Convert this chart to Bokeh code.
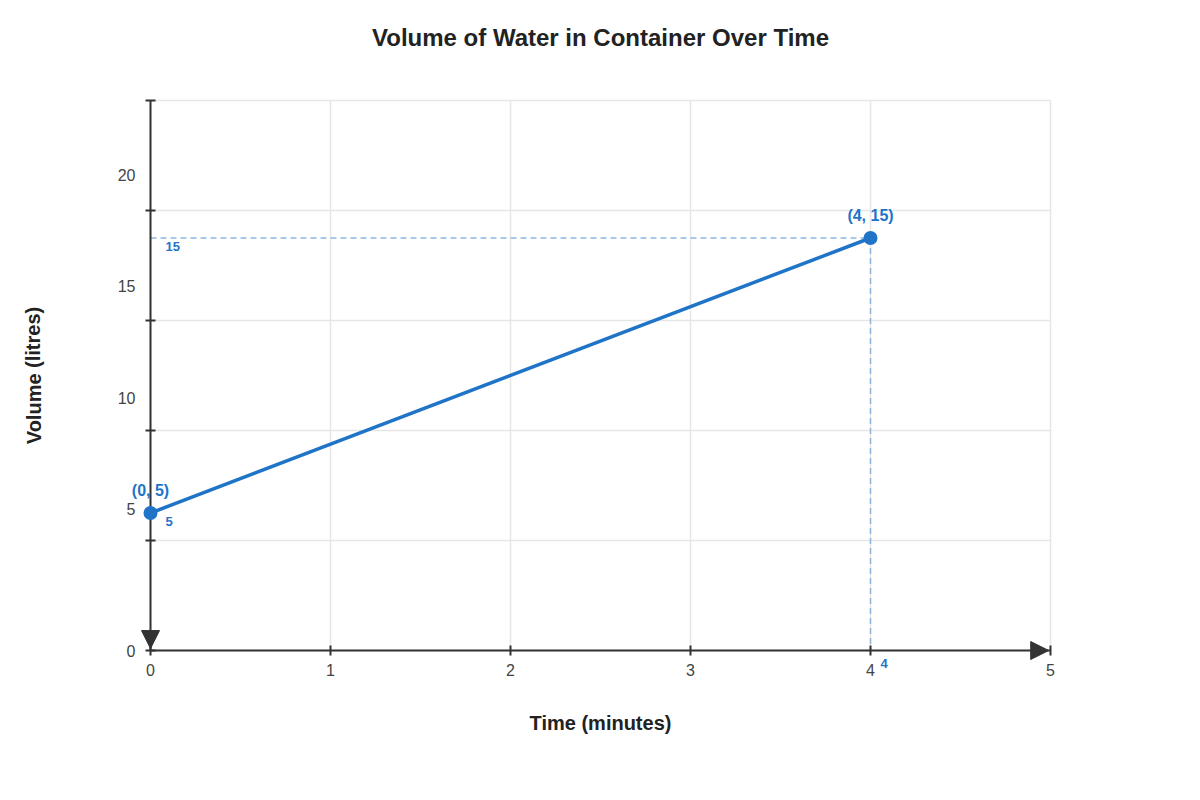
from bokeh.plotting import figure
from bokeh.models import Range1d, Label, LabelSet, ColumnDataSource, Arrow, NormalHead, FixedTicker, LinearAxis
from bokeh.core.properties import value
from bokeh.embed import file_html
from bokeh.resources import INLINE

# data
time_min = [0, 4]
volume_l = [5, 15]
point_labels = ["(0, 5)", "(4, 15)"]

x_ticks = [0, 1, 2, 3, 4, 5]
y_grid_ticks = [0, 4, 8, 12, 16, 20]
y_tick_text = ["0", "5", "10", "15", "20"]
y_tick_pos = [0, 5.15, 9.2, 13.25, 17.3]

BLUE = "#1f74c8"
DASH = "#8fb6df"
DARK = "#333333"
GRID = "#e6e6e6"
FONT = "Liberation Sans"

W, H = 1184, 784
# pixel placement of the data area: x 0..5 -> 150..1050, y 0..20 -> 650..100
xpx = 180.0
ypx = 27.5
x_range = Range1d(-150 / xpx, (W - 150) / xpx)
y_range = Range1d(20 + 100 / ypx - H / ypx, 20 + 100 / ypx)

p = figure(width=W, height=H, output_backend="svg", toolbar_location=None,
           x_range=x_range, y_range=y_range, x_axis_location=None, y_axis_location=None,
           min_border=0)
p.outline_line_color = None
p.xgrid.visible = False
p.ygrid.visible = False

# grid lines
x0, x1 = x_ticks[0], x_ticks[-1]
y0, y1 = y_grid_ticks[0], y_grid_ticks[-1]
p.segment(x0=x_ticks, y0=[y0] * len(x_ticks), x1=x_ticks, y1=[y1] * len(x_ticks),
          line_color=GRID, line_width=1.5)
p.segment(x0=[x0] * len(y_grid_ticks), y0=y_grid_ticks, x1=[x1] * len(y_grid_ticks), y1=y_grid_ticks,
          line_color=GRID, line_width=1.5)

# axes
xaxis = LinearAxis(fixed_location=0, ticker=FixedTicker(ticks=x_ticks), bounds=(x0, x1))
yaxis = LinearAxis(fixed_location=0, ticker=FixedTicker(ticks=y_grid_ticks), bounds=(y0, y1))
for ax in (xaxis, yaxis):
    ax.axis_line_color = DARK
    ax.axis_line_width = 2
    ax.major_tick_line_color = DARK
    ax.major_tick_line_width = 2
    ax.major_tick_in = 5
    ax.major_tick_out = 5
    ax.minor_tick_line_color = None
xaxis.major_label_text_font = FONT
xaxis.major_label_text_font_size = "16px"
xaxis.major_label_text_color = "#444444"
xaxis.major_label_standoff = 8
yaxis.major_label_text_color = None
p.add_layout(xaxis, "below")
p.add_layout(yaxis, "left")

# y tick labels sit a little off the grid lines, as in the original
ylab_axis = LinearAxis(fixed_location=0, ticker=FixedTicker(ticks=y_tick_pos),
                       major_label_overrides={pos: t for pos, t in zip(y_tick_pos, y_tick_text)})
ylab_axis.axis_line_color = None
ylab_axis.major_tick_line_color = None
ylab_axis.minor_tick_line_color = None
ylab_axis.major_tick_out = 0
ylab_axis.major_tick_in = 0
ylab_axis.major_label_standoff = 15
ylab_axis.major_label_text_font = FONT
ylab_axis.major_label_text_font_size = "16px"
ylab_axis.major_label_text_color = "#444444"
p.add_layout(ylab_axis, "left")

# axis arrows
p.add_layout(Arrow(x_start=x0, y_start=y0, x_end=x1 - 0.01, y_end=y0, line_alpha=0,
                   end=NormalHead(size=18, fill_color=DARK, line_color=DARK)))
p.add_layout(Arrow(x_start=x0, y_start=y1, x_end=x0, y_end=y0 + 0.07, line_alpha=0,
                   end=NormalHead(size=18, fill_color=DARK, line_color=DARK)))

# guide lines
p.line([0, time_min[1]], [volume_l[1], volume_l[1]], line_color=DASH, line_width=1.5, line_dash="6 4")
p.line([time_min[1], time_min[1]], [volume_l[1], 0], line_color=DASH, line_width=1.5, line_dash="6 4")

# data
p.line(time_min, volume_l, line_color=BLUE, line_width=3.5, level="overlay")
p.scatter(time_min, volume_l, size=14, fill_color=BLUE, line_color=BLUE, line_width=0, level="overlay")

src = ColumnDataSource(dict(x=time_min, y=volume_l, t=point_labels))
p.add_layout(LabelSet(x="x", y="y", text="t", source=src, y_offset=14,
                      text_align="center", text_baseline="bottom",
                      text_font=value(FONT), text_font_size="16px", text_font_style="bold", text_color=BLUE))

for v in volume_l:
    p.add_layout(Label(x=0, y=v, text=str(v), x_offset=15, y_offset=-8,
                       text_align="left", text_baseline="middle",
                       text_font=FONT, text_font_size="13px", text_font_style="bold", text_color=BLUE))
p.add_layout(Label(x=time_min[1], y=0, text=str(time_min[1]), x_offset=10, y_offset=-13,
                   text_align="left", text_baseline="middle",
                   text_font=FONT, text_font_size="13px", text_font_style="bold", text_color=BLUE))

# titles
p.add_layout(Label(x=2.5, y=22.3, text="Volume of Water in Container Over Time",
                   text_align="center", text_baseline="middle",
                   text_font=FONT, text_font_size="24px", text_font_style="bold", text_color="#222222"))
p.add_layout(Label(x=2.5, y=-2.65, text="Time (minutes)",
                   text_align="center", text_baseline="middle",
                   text_font=FONT, text_font_size="20px", text_font_style="bold", text_color="#222222"))
p.add_layout(Label(x=-0.65, y=10, text="Volume (litres)", angle=1.5708,
                   text_align="center", text_baseline="middle",
                   text_font=FONT, text_font_size="20px", text_font_style="bold", text_color="#222222"))

open("out.html", "w").write(file_html(p, INLINE))
